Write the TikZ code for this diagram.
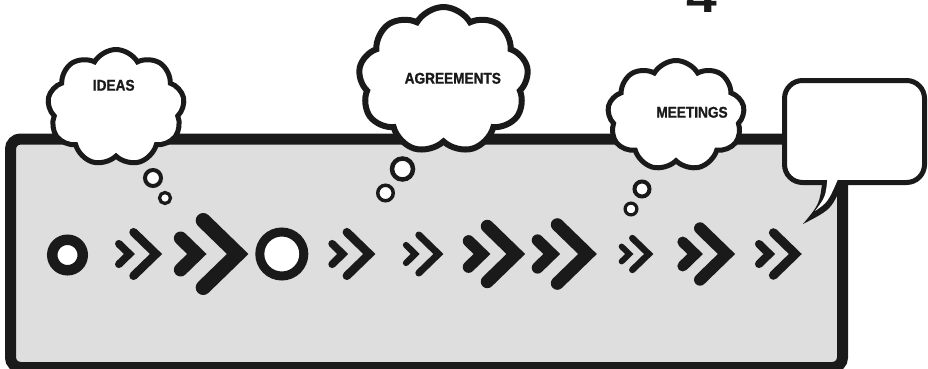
\documentclass[tikz,border=0pt]{standalone}
\usepackage{fontspec}
\usetikzlibrary{shapes.symbols}
\newfontfamily\cloudfont[FakeStretch=0.88, BoldFeatures={FakeBold=1.2}]{Liberation Sans}
\newfontfamily\digitfont{Liberation Sans}
\definecolor{ink}{RGB}{26,26,26}
\definecolor{panelgray}{RGB}{222,222,222}
% double chevron: #1 tip x, #2 centre y, #3 half height, #4 stroke
\newcommand\dchevron[4]{%
  \pgfmathsetmacro\chevXa{#1-1.22*#3}%
  \pgfmathsetmacro\chevHa{0.47*#3}%
  \pgfmathsetmacro\chevTa{0.9*#4}%
  \draw[chev, line width=#4] (#1-1.03*#3, #2-#3) -- (#1,#2) -- (#1-1.03*#3, #2+#3);
  \draw[chev, line width=\chevTa] (\chevXa-1.03*\chevHa, #2-\chevHa) -- (\chevXa,#2) -- (\chevXa-1.03*\chevHa, #2+\chevHa);
}
\begin{document}
\begin{tikzpicture}[x=1pt,y=-1pt,
  panelbox/.style={rectangle, draw=ink, fill=panelgray, line width=11, rounded corners=10, inner sep=0},
  cloudbox/.style={cloud, cloud puffs=9, cloud puff arc=120, cloud ignores aspect, draw=ink, fill=white, line width=5, inner sep=0},
  bub/.style={circle, draw=ink, fill=white, inner sep=0},
  ring/.style={circle, draw=ink, fill=white, inner sep=0},
  saybox/.style={rectangle, draw=ink, fill=white, line width=5, rounded corners=18, inner sep=0, minimum width=140, minimum height=102},
  word/.style={inner sep=0, text=ink, font=\cloudfont\bfseries\fontsize{15.5}{15.5}\selectfont},
  chev/.style={draw=ink, line cap=round, line join=miter}]
\useasboundingbox (0,0) rectangle (928,369);
\clip (0,0) rectangle (928,369);
% panel
\node[panelbox, minimum width=832, minimum height=228.5] (panel) at (426.5,253.25) {};
% partial digit at the top
\node[inner sep=0, anchor=base west, text=ink, font=\digitfont\bfseries\fontsize{46}{46}\selectfont] (digit) at (686,13) {\scalebox{1.2}[1]{4}};
% clouds
\node[cloudbox, minimum width=137, minimum height=116] (c1) at (116,107.5) {};
\node[cloudbox, line width=6, minimum width=170, minimum height=146] (c2) at (443.5,80) {};
\node[cloudbox, minimum width=137, minimum height=110] (c3) at (676,115.5) {};
\node[word] (t1) at (113.7,85.3) {IDEAS};
\node[word] (t2) at (452.8,78.3) {AGREEMENTS};
\node[word] (t3) at (692,112.3) {MEETINGS};
% thought bubbles
\node[bub, line width=4, minimum size=16] (b1a) at (153,178) {};
\node[bub, line width=3.2, minimum size=11] (b1b) at (165,198) {};
\node[bub, line width=4.5, minimum size=21] (b2a) at (402.5,169) {};
\node[bub, line width=3.5, minimum size=15.5] (b2b) at (385.5,193) {};
\node[bub, line width=4, minimum size=15] (b3a) at (642,189) {};
\node[bub, line width=3.2, minimum size=11.8] (b3b) at (631,209) {};
% speech bubble
\node[saybox] (say) at (854.5,131.5) {};
\coordinate (tip) at (803,224);
\fill[ink] (822.5,180) .. controls (819.5,204) .. (tip) .. controls (832,209) .. (843.5,180) -- cycle;
\fill[white] (827.5,178) .. controls (825.5,197) .. (815,211) .. controls (828,202) .. (838.5,178) -- cycle;
% rings
\node[ring, line width=10.5, minimum size=30.5] (r1) at (67.5,255) {};
\node[ring, line width=9, minimum size=44] (r2) at (281.8,254) {};
% chevrons
\dchevron{156}{254}{21.8}{8.5}
\dchevron{237.7}{254}{33.5}{15}
\dchevron{369.3}{254}{21.8}{8.5}
\dchevron{438.4}{254}{19}{7}
\dchevron{515.8}{254}{27.7}{13}
\dchevron{587.5}{254}{29.3}{13}
\dchevron{648.7}{254}{15.9}{6.5}
\dchevron{726.5}{254}{25.7}{12}
\dchevron{795.3}{254}{21.3}{9}
\end{tikzpicture}
\end{document}
